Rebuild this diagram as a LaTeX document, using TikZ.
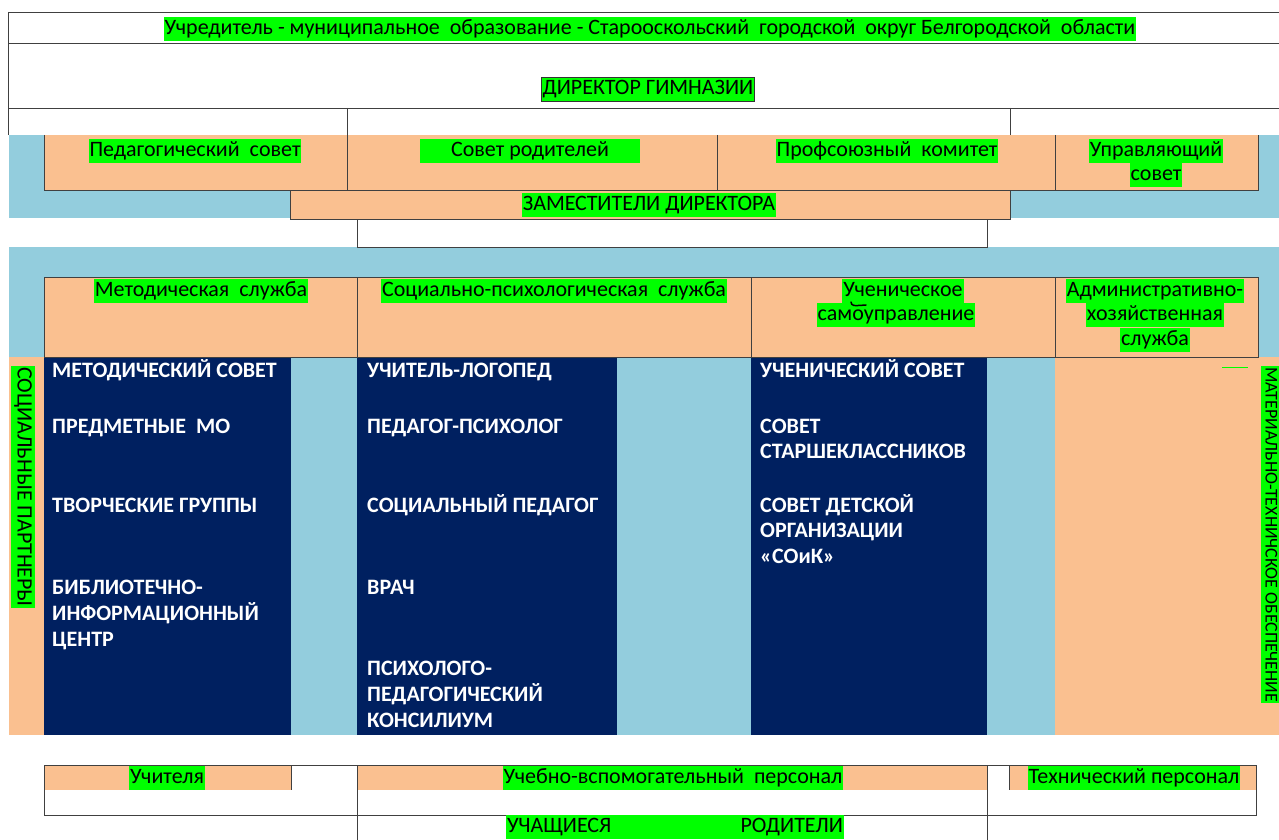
\documentclass[tikz,border=0pt]{standalone}
\usepackage{fontspec}
\setmainfont{Carlito}
\usetikzlibrary{positioning}

\definecolor{bandblue}{HTML}{93CDDD}
\definecolor{peach}{HTML}{FAC090}
\definecolor{navy}{HTML}{002060}
\definecolor{hlgreen}{HTML}{00FF00}

\begin{document}
\begin{tikzpicture}[x=1pt,y=-1pt,
 hl/.style={fill=hlgreen,inner xsep=1pt,inner ysep=1.5pt,text height=16pt,text depth=5pt,font=\fontsize{22}{24}\selectfont},
 item/.style={anchor=north west,align=left,inner sep=0pt,text=white,font=\bfseries\fontsize{22}{25.5}\selectfont},
 rule/.style={draw=black!75,line width=0.9pt}]

  \useasboundingbox (0,0) rectangle (1279,840);

  % colour areas
  \fill[bandblue] (9,135) rectangle (1279,218);
  \fill[bandblue] (9,247) rectangle (1279,735);
  \fill[peach] (44,135) rectangle (1258,190);
  \fill[peach] (290,190) rectangle (1010,219);
  \fill[peach] (44,277) rectangle (1258,357);
  \fill[peach] (9,357) rectangle (44,735);
  \fill[peach] (1055,357) rectangle (1279,735);
  \foreach \a/\b in {44/291, 357/617, 751/987}
    \fill[navy] (\a,357) rectangle (\b,735);
  \fill[peach] (44,765) rectangle (291,790);
  \fill[peach] (357,765) rectangle (987,790);
  \fill[peach] (1010,765) rectangle (1256,790);

  % table lines
  \draw[rule] (8,12) -- (1279,12) (8,43) -- (1279,43) (8,108) -- (1279,108);
  \draw[rule] (8,12) -- (8,135);
  \draw[rule] (347,108) -- (347,190) (1010,108) -- (1010,135);
  \draw[rule] (44,135) -- (44,190) -- (1258,190) -- (1258,135);
  \draw[rule] (717,135) -- (717,190) (1055,135) -- (1055,190);
  \draw[rule] (290,190) -- (290,219) -- (1010,219) -- (1010,190);
  \draw[rule] (357,219) -- (357,247) -- (987,247) -- (987,219);
  \draw[rule] (44,277) rectangle (1258,357);
  \draw[rule] (357,277) -- (357,357) (751,277) -- (751,357) (1055,277) -- (1055,357);
  \draw[rule] (44,765) rectangle (1256,815);
  \draw[rule] (291,765) -- (291,790) (1009,765) -- (1009,790);
  \draw[rule] (357,765) -- (357,840) (987,765) -- (987,840);

  \node[hl] (founder) at (650,29) {Учредитель - муниципальное\ \ образование - Старооскольский\ \ городской\ \ округ Белгородской\ \ области};
  \node[hl,draw=black!80] (head) at (648,89) {ДИРЕКТОР ГИМНАЗИИ};

  \node[hl] (pedsov) at (195,151) {Педагогический\ \ совет};
  \node[hl,minimum width=220pt] (parents) at (530,151) {Совет родителей};
  \node[hl] (union) at (887,151) {Профсоюзный\ \ комитет};
  \node[hl] (board) at (1156,151) {Управляющий};
  \node[hl] (board2) [below=0pt of board] {совет};
  \node[hl] (deputy) at (649,205) {ЗАМЕСТИТЕЛИ ДИРЕКТОРА};

  \node[hl] (method) at (201,291) {Методическая\ \ служба};
  \node[hl] (social) at (554,291) {Социально-психологическая\ \ служба};
  \node[hl] (pupil) at (903,291) {Ученическое};
  \node[hl] (pupil2) [below=0pt of pupil,xshift=-7pt] {самоуправление};
  \node[hl] (admin) at (1155,291) {Административно-};
  \node[hl] (admin2) [below=0pt of admin] {хозяйственная};
  \node[hl] (admin3) [below=0pt of admin2] {служба};
  \draw[line width=1.5pt,line cap=round] (851,302) .. controls (852,306) .. (866,305);
  \draw[hlgreen,line width=0.8pt] (1222,367) -- (1248,367);

  \node[hl,rotate=-90,anchor=west] (partners) at (23,366) {СОЦИАЛЬНЫЕ ПАРТНЕРЫ};
  \node[hl,rotate=-90,anchor=west,font=\fontsize{18}{20}\selectfont,text height=13pt,text depth=4pt,inner ysep=0.5pt] (supply) at (1270,366) {МАТЕРИАЛЬНО-ТЕХНИЧСКОЕ ОБЕСПЕЧЕНИЕ};

  \foreach \y/\t [count=\i] in {370/МЕТОДИЧЕСКИЙ СОВЕТ, 426/ПРЕДМЕТНЫЕ\ \ МО, 505/ТВОРЧЕСКИЕ ГРУППЫ, 587/{БИБЛИОТЕЧНО-\\ИНФОРМАЦИОННЫЙ\\ЦЕНТР}}
    \node[item] (method\i) at (52,\y-11) {\strut\t};
  \foreach \y/\t [count=\i] in {370/УЧИТЕЛЬ-ЛОГОПЕД, 426/ПЕДАГОГ-ПСИХОЛОГ, 505/СОЦИАЛЬНЫЙ ПЕДАГОГ, 587/ВРАЧ, 668/{ПСИХОЛОГО-\\ПЕДАГОГИЧЕСКИЙ\\КОНСИЛИУМ}}
    \node[item] (social\i) at (367,\y-11) {\strut\t};
  \foreach \y/\t [count=\i] in {370/УЧЕНИЧЕСКИЙ СОВЕТ, 426/{СОВЕТ\\СТАРШЕКЛАССНИКОВ}, 505/{СОВЕТ ДЕТСКОЙ\\ОРГАНИЗАЦИИ\\«СОиК»}}
    \node[item] (pupil\i) at (760,\y-11) {\strut\t};

  \node[hl] (teachers) at (167,778) {Учителя};
  \node[hl] (support) at (673,778) {Учебно-вспомогательный\ \ персонал};
  \node[hl] (tech) at (1134,778) {Технический персонал};
  \node[hl] (pupils) at (675,827) {\makebox[336pt]{УЧАЩИЕСЯ\hfill РОДИТЕЛИ}};

\end{tikzpicture}
\end{document}
